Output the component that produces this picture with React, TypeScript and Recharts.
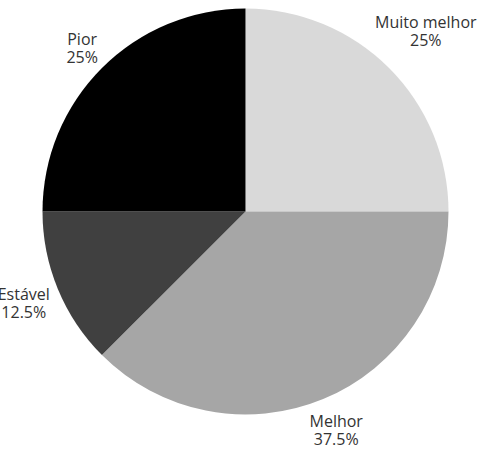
import React from "react";
import { PieChart, Pie, Cell } from "recharts";

const categories = ["Muito melhor", "Melhor", "Estável", "Pior"];
const values = [25, 37.5, 12.5, 25];
const percentLabels = ["25%", "37.5%", "12.5%", "25%"];
const colors = ["#d9d9d9", "#a6a6a6", "#404040", "#000000"];

const data = categories.map((name, i) => ({ name, value: values[i], pct: percentLabels[i] }));

const RADIAN = Math.PI / 180;

const renderLabel = (props: any) => {
  const { cx, cy, midAngle, outerRadius, index } = props;
  const name = categories[index];
  const pct = percentLabels[index];
  const maxChars = Math.max(name.length, pct.length);
  const r = outerRadius + 16 + 3 * maxChars;
  const x = cx + r * Math.cos(-midAngle * RADIAN);
  const y = cy + r * Math.sin(-midAngle * RADIAN);
  return (
    <g>
      <text x={x} y={y - 3} textAnchor="middle" fill="#333333" fontSize={16} fontFamily="'Open Sans', sans-serif">
        {name}
      </text>
      <text x={x} y={y + 14.5} textAnchor="middle" fill="#333333" fontSize={16} fontFamily="'Open Sans', sans-serif">
        {pct}
      </text>
    </g>
  );
};

export default function App() {
  return (
    <div style={{ position: "absolute", left: 0, top: 0, width: 500, height: 454, background: "#ffffff" }}>
      <PieChart width={500} height={454} margin={{ top: 0, right: 0, bottom: 0, left: 0 }}>
        <Pie
          data={data}
          dataKey="value"
          nameKey="name"
          cx={245.5}
          cy={211.5}
          outerRadius={203}
          startAngle={90}
          endAngle={-270}
          stroke="none"
          label={renderLabel}
          labelLine={false}
          isAnimationActive={false}
        >
          {data.map((d, i) => (
            <Cell key={d.name} fill={colors[i]} />
          ))}
        </Pie>
      </PieChart>
    </div>
  );
}
